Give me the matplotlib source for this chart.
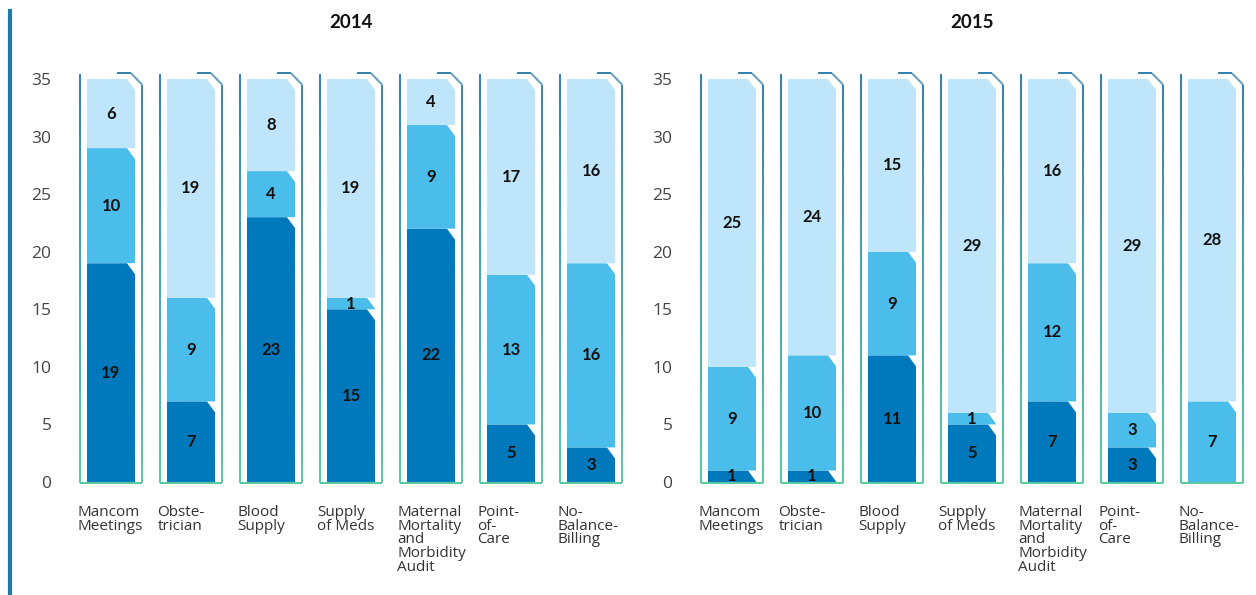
import numpy as np
import matplotlib
matplotlib.use("Agg")
import matplotlib.pyplot as plt
from matplotlib.patches import Polygon
from matplotlib.collections import LineCollection
from matplotlib.lines import Line2D
from matplotlib.colors import to_rgb

# Données
categories = ["Mancom\nMeetings", "Obste-\ntrician", "Blood\nSupply", "Supply\nof Meds",
              "Maternal\nMortality\nand\nMorbidity\nAudit", "Point-\nof-\nCare", "No-\nBalance-\nBilling"]
annees = ["2014", "2015"]

fonce_2014 = [19, 7, 23, 15, 22, 5, 3]
moyen_2014 = [10, 9, 4, 1, 9, 13, 16]
clair_2014 = [6, 19, 8, 19, 4, 17, 16]

fonce_2015 = [1, 1, 11, 5, 7, 3, 0]
moyen_2015 = [9, 10, 9, 1, 12, 3, 7]
clair_2015 = [25, 24, 15, 29, 16, 29, 28]

yticks = [0, 5, 10, 15, 20, 25, 30, 35]

couleurs = ["#0079BC", "#4ABDEB", "#BEE5F9"]
haut_contour = "#2276A6"
bas_contour = "#4CC49A"

plt.rcParams['font.family'] = ['Open Sans', 'DejaVu Sans']
police_gras = ['Lato', 'DejaVu Sans']

W_fill = 0.6
W_out = 0.78
dx_ch = 0.1
dy_ch = 0.95


def segment(ax, c, y0, y1, couleur):
    # rectangle avec coin supérieur droit biseauté
    g, d = c - W_fill / 2, c + W_fill / 2
    dy = min(dy_ch, y1 - y0)
    pts = [(g, y0), (d, y0), (d, y1 - dy), (d - dx_ch, y1), (g, y1)]
    ax.add_patch(Polygon(pts, closed=True, facecolor=couleur, edgecolor="none", clip_on=False))


def contour(ax, c):
    # contour du "tube" avec dégradé bleu -> vert
    g, d = c - W_out / 2, c + W_out / 2
    chemin = [(g, 35.4), (g, -0.1), (d, -0.1), (d, 34.5), (d - 0.14, 35.5), (c + 0.08, 35.5)]
    segs, cols = [], []
    c_haut, c_bas = np.array(to_rgb(haut_contour)), np.array(to_rgb(bas_contour))
    for (x0, y0), (x1, y1) in zip(chemin[:-1], chemin[1:]):
        n = 60
        xs = np.linspace(x0, x1, n + 1)
        ys = np.linspace(y0, y1, n + 1)
        for i in range(n):
            segs.append([(xs[i], ys[i]), (xs[i + 1], ys[i + 1])])
            t = np.clip(((ys[i] + ys[i + 1]) / 2) / 35, 0, 1)
            cols.append(c_bas * (1 - t) + c_haut * t)
    lc = LineCollection(segs, colors=cols, linewidths=1.3, clip_on=False, capstyle="butt")
    ax.add_collection(lc)


fig = plt.figure(figsize=(12.56, 5.95), dpi=100)

positions = [71, 692]
donnees = [(fonce_2014, moyen_2014, clair_2014), (fonce_2015, moyen_2015, clair_2015)]

for k, annee in enumerate(annees):
    ax = fig.add_axes([positions[k] / 1256, (595 - 482) / 595, 560 / 1256, 403 / 595])
    ax.set_xlim(-0.5, 6.5)
    ax.set_ylim(0, 35)
    for s in ax.spines.values():
        s.set_visible(False)
    ax.set_xticks([])
    ax.set_yticks(yticks)
    ax.tick_params(axis="y", length=0, pad=14, labelsize=12.5, labelcolor="#444444")

    fonce, moyen, clair = donnees[k]
    for i in range(len(categories)):
        contour(ax, i)
        bas = 0
        for v, coul in zip([fonce[i], moyen[i], clair[i]], couleurs):
            if v > 0:
                segment(ax, i, bas, bas + v, coul)
                ax.text(i, bas + v / 2, str(v), ha="center", va="center", family=police_gras,
                        fontsize=12, fontweight="bold", color="#111111")
            bas += v
        ax.text(i - W_out / 2 - 0.03, -2.0, categories[i], ha="left", va="top",
                fontsize=11, color="#333333", linespacing=0.88, clip_on=False)

    ax.text(3, 39.9, annee, ha="center", va="center", fontsize=13.5, family=police_gras,
            fontweight="bold", color="#111111", clip_on=False)

# trait vertical à gauche
fig.add_artist(Line2D([10 / 1256, 10 / 1256], [0, (595 - 11) / 595], color="#1B7AA6",
                      linewidth=3, transform=fig.transFigure))

fig.savefig("out.png", dpi=100)
